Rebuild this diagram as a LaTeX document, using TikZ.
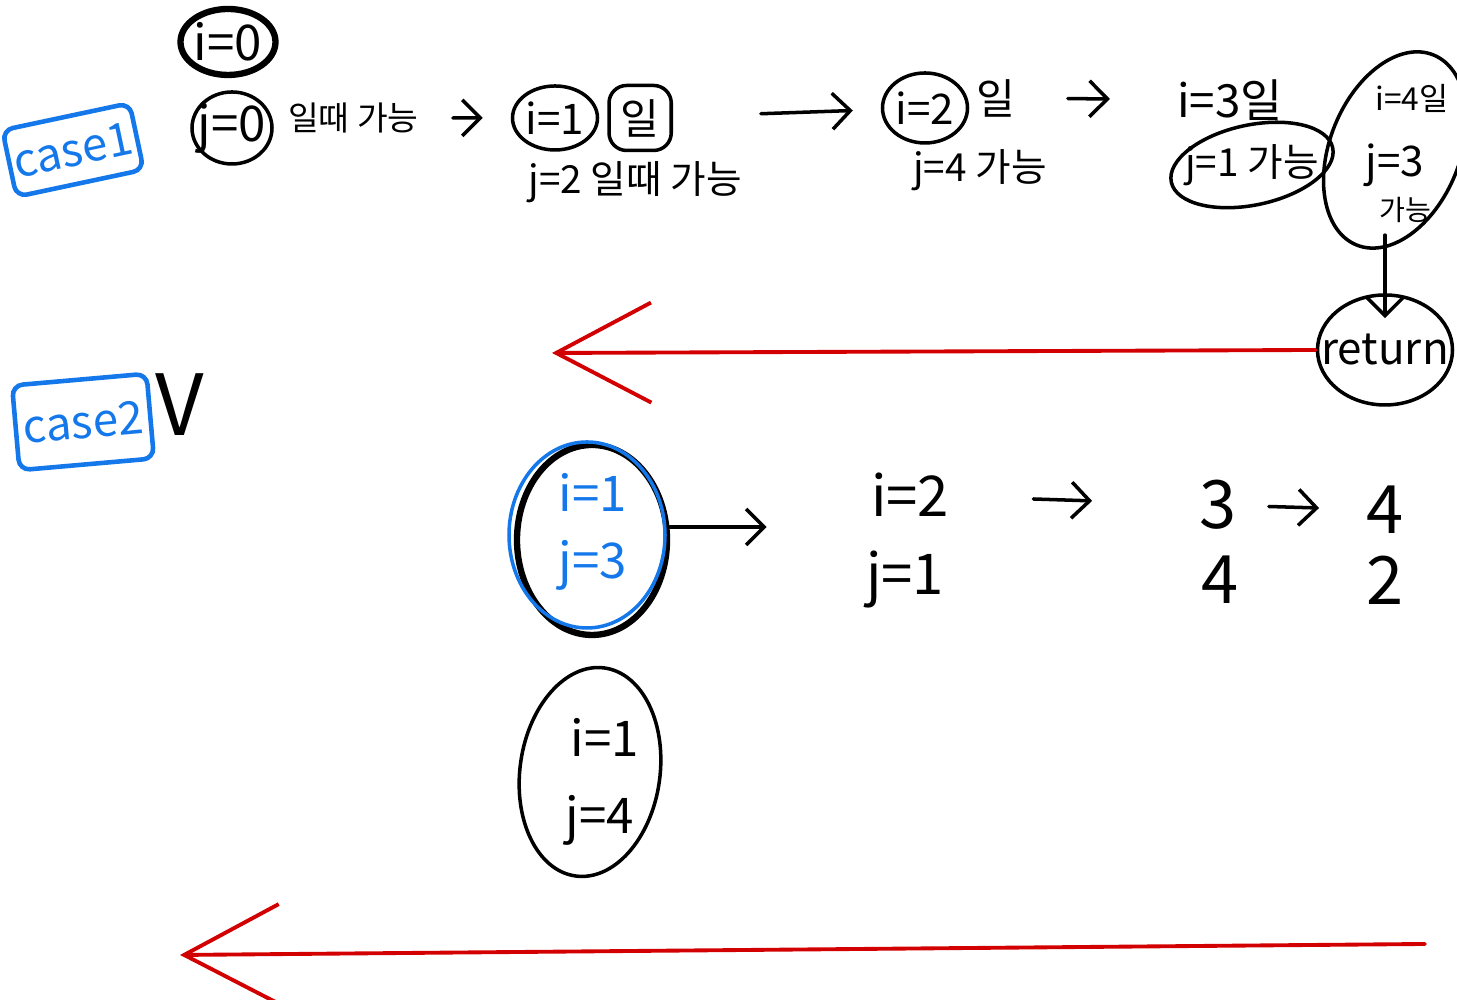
\documentclass[tikz,border=0pt]{standalone}
\usepackage{fontspec}
\usepackage{tikz}
\usetikzlibrary{shapes.geometric, arrows.meta, positioning, calc}
\newfontfamily\kr{Noto Sans CJK KR}
\newcommand{\fs}[1]{\kr\fontsize{#1}{#1}\selectfont}
\definecolor{penblue}{RGB}{20,120,235}
\definecolor{penred}{RGB}{210,0,0}

\begin{document}
\begin{tikzpicture}[font=\fs{12}, >={Straight Barb[length=1.8mm,width=3.6mm]},
    pen/.style={line width=1pt, line cap=round},
    ring/.style={draw, ellipse, pen, inner sep=0pt},
    casebox/.style={draw=penblue, text=penblue, line width=1.3pt, rounded corners=3pt, inner sep=1pt, font=\fs{13}},
    redarrow/.style={penred, line width=1.1pt, line cap=round, -{Straight Barb[length=9.5mm,width=10mm]}}]
    \useasboundingbox (0,0) rectangle (14.57,10);

    % case 1
    \node[casebox, rotate=12, minimum width=1.3cm, minimum height=0.68cm] (case1) at (0.73,8.5) {case1};
    \node[ring, line width=1.8pt, minimum width=0.95cm, minimum height=0.66cm, label={[font=\fs{14}]center:i=0}] (i0) at (2.28,9.58) {};
    \node[ring, minimum width=0.8cm, minimum height=0.72cm, label={[font=\fs{14}]center:j=0}] (j0) at (2.32,8.72) {};
    \node[font=\fs{9.5}, right=0.02cm of j0, yshift=1mm] (j0txt) {일때 가능};

    \node[ring, minimum width=0.85cm, minimum height=0.64cm, label={[font=\fs{12}]center:i=1}] (i1) at (5.55,8.82) {};
    \node[draw, pen, rounded corners=5pt, minimum width=0.57cm, minimum height=0.65cm, right=0.08cm of i1] (il1) {일};
    \node[font=\fs{11}] (j2txt) at (6.35,8.18) {j=2 일때 가능};
    \draw[pen, ->, shorten <=0.22cm, shorten >=0.28cm] (j0txt) -- (i1);

    \node[ring, minimum width=0.85cm, minimum height=0.7cm, label={[font=\fs{12}]center:i=2}] (i2) at (9.25,8.92) {};
    \node[right=-0.05cm of i2, yshift=1mm] (il2) {일};
    \node[font=\fs{11}] (j4txt) at (9.8,8.3) {j=4 가능};
    \draw[pen, ->, shorten <=0.88cm, shorten >=0.28cm] (il1) -- (i2);

    \node[font=\fs{13}] (i3txt) at (12.3,9.0) {i=3일};
    \node[ring, rotate=12, minimum width=1.65cm, minimum height=0.8cm, label={[font=\fs{11}]center:j=1 가능}] (j1) at (12.52,8.35) {};
    \draw[pen, ->, shorten <=0.4cm, shorten >=0.55cm] (il2) -- (i3txt);

    \node[ring, rotate=-22, minimum width=1.3cm, minimum height=2.05cm] (c4) at (13.95,8.5) {};
    \node[font=\fs{9}] (i4txt) at (14.12,9.02) {i=4일};
    \node[font=\fs{12}] (j3txt) at (13.95,8.35) {j=3};
    \node[font=\fs{8}] (ok4) at (14.05,7.9) {가능};

    \node[ring, minimum width=1.35cm, minimum height=1.1cm, label={[font=\fs{12.5}]center:return}] (ret) at (13.85,6.5) {};
    \draw[pen, ->] (ok4.south -| ret.north) -- ([yshift=-2.5mm]ret.north);

    \coordinate (tip1) at (5.52,6.47);
    \draw[redarrow] (ret.west) -- (tip1);

    % case 2
    \node[casebox, rotate=5, minimum width=1.35cm, minimum height=0.85cm] (case2) at (0.83,5.78) {case2};
    \node[font=\fs{24}] (tick) at (1.8,5.95) {V};

    \node[ring, line width=1.8pt, minimum width=1.5cm, minimum height=1.9cm] (q13) at (5.92,4.6) {};
    \draw[penblue, pen] ([shift={(-0.05,0.05)}]q13.center) ellipse [x radius=0.78cm, y radius=0.93cm];
    \node[text=penblue, font=\fs{14}] (q13i) at (5.93,5.08) {i=1};
    \node[text=penblue, font=\fs{14}] (q13j) at (5.93,4.35) {j=3};

    \node[font=\fs{16}] (i2b) at (9.1,5.05) {i=2};
    \node[font=\fs{16}] (j1b) at (9.05,4.2) {j=1};
    \node[font=\fs{19}] (r3) at (12.18,4.95) {3};
    \node[font=\fs{19}] (r4a) at (12.2,4.2) {4};
    \node[font=\fs{19}] (r4) at (13.85,4.9) {4};
    \node[font=\fs{19}] (r2) at (13.85,4.2) {2};
    \draw[pen, ->, shorten >=0.92cm] ([yshift=1.3mm]q13.east) -- ([yshift=1.3mm]q13.east -| i2b.west);
    \draw[pen, ->, shorten <=0.72cm, shorten >=0.95cm] (i2b) -- (r3);
    \draw[pen, ->, shorten <=0.2cm, shorten >=0.35cm] (r3) -- (r4);

    \node[ring, rotate=-8, minimum width=1.4cm, minimum height=2.1cm] (q14) at (5.9,2.28) {};
    \node[font=\fs{14}] (q14i) at (6.05,2.63) {i=1};
    \node[font=\fs{14}] (q14j) at (6.0,1.8) {j=4};

    \coordinate (red2a) at (14.25,0.56);
    \coordinate (red2b) at (1.8,0.45);
    \draw[redarrow] (red2a) -- (red2b);
\end{tikzpicture}
\end{document}
